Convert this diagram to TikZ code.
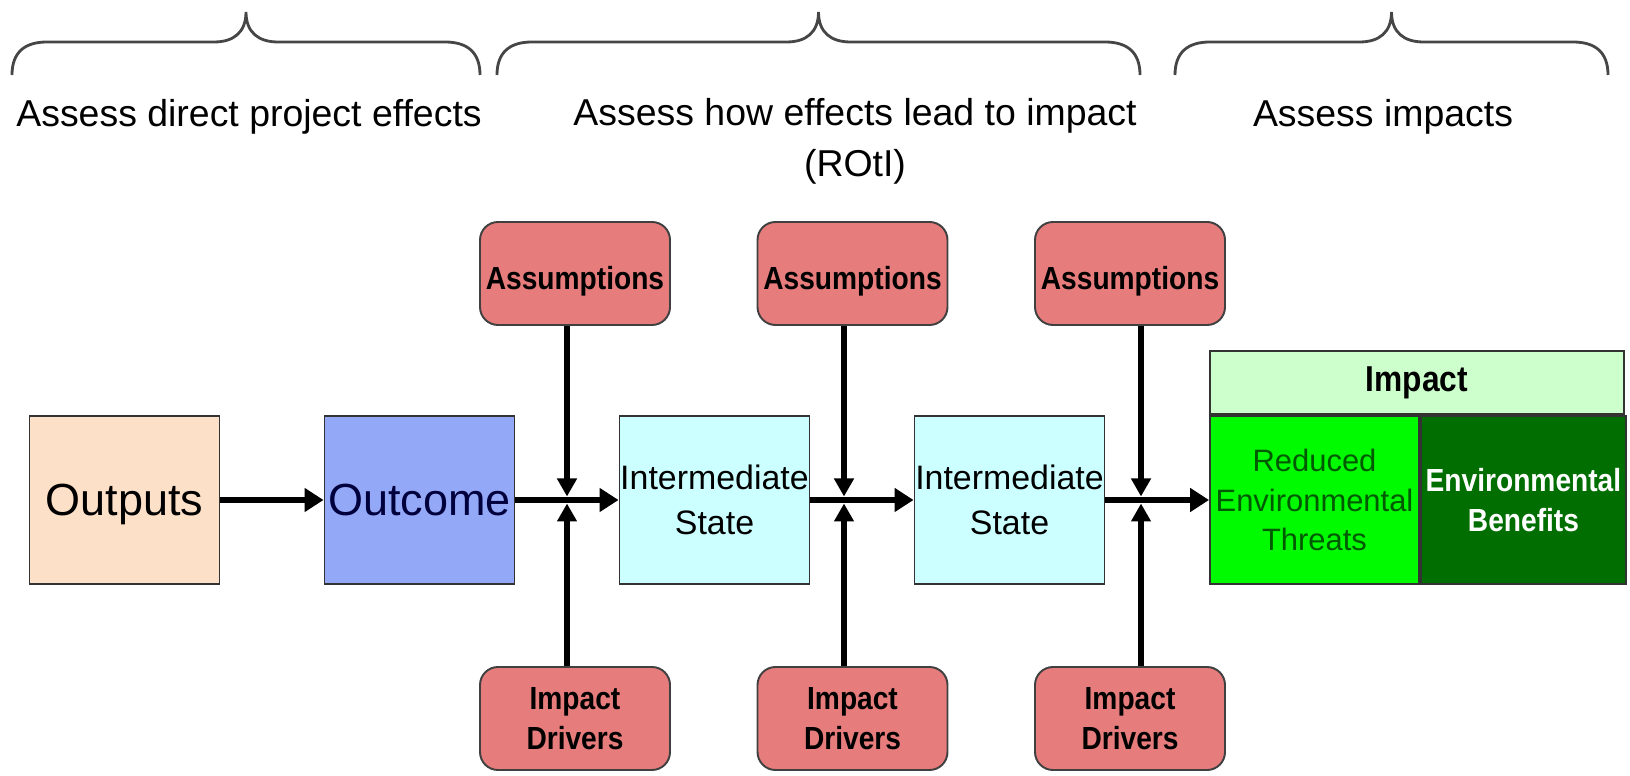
\documentclass[tikz,border=0pt]{standalone}
\usepackage{fontspec}
\setmainfont{Liberation Sans}
\newfontfamily\narrowfont[FakeStretch=0.88]{Liberation Sans}
\usetikzlibrary{positioning, arrows.meta}

\definecolor{peach}{RGB}{252,224,200}
\definecolor{periwinkle}{RGB}{148,168,248}
\definecolor{palecyan}{RGB}{204,255,255}
\definecolor{salmon}{RGB}{230,124,124}
\definecolor{palegreen}{RGB}{204,255,204}
\definecolor{brightgreen}{RGB}{0,250,0}
\definecolor{forest}{RGB}{0,110,0}
\definecolor{textgreen}{RGB}{0,90,0}
\definecolor{navy}{RGB}{0,0,60}
\definecolor{bracegray}{RGB}{70,70,70}

\begin{document}
\begin{tikzpicture}[node distance=5.9cm]
	\tikzstyle{stage} = [rectangle, minimum width=3.8cm, minimum height=3.36cm, 
	inner sep=0pt, align=center, draw=black!80, line width=1.1pt]
	\tikzstyle{factor} = [rectangle, rounded corners=0.36cm, minimum width=3.8cm, 
	minimum height=2.06cm, inner sep=0pt, align=center, draw=black!75, 
	line width=1.1pt, fill=salmon, font=\narrowfont\bfseries\fontsize{18.2}{22.8}\selectfont]
	\tikzstyle{phase} = [align=center, font=\fontsize{21.3}{29}\selectfont]
	\tikzstyle{arrow} = [line width=3.6pt, ->, >={Triangle[length=0.38cm, width=0.46cm]}]
	\tikzstyle{link} = [line width=3.3pt, ->, >={Triangle[length=0.36cm, width=0.38cm]}, 
	shorten >=0.07cm]
	\tikzstyle{bracket} = [line width=1.6pt, draw=bracegray]
	\useasboundingbox (0,0) rectangle (32.6,15.5);
	% phases
	\foreach \xa/\xm/\xb in {0.24/4.92/9.6, 9.94/16.37/22.8, 23.5/27.83/32.16}
		\draw [bracket] (\xa,14.0) .. controls (\xa,14.45) and (\xa+0.25,14.66) .. (\xa+0.7,14.66) 
		-- (\xm-0.64,14.66) .. controls (\xm-0.25,14.66) and (\xm,14.85) .. (\xm,15.26) 
		.. controls (\xm,14.85) and (\xm+0.25,14.66) .. (\xm+0.64,14.66) 
		-- (\xb-0.7,14.66) .. controls (\xb-0.25,14.66) and (\xb,14.45) .. (\xb,14.0);
	\node (directLabel) [phase] at (4.98,13.17) {Assess direct project effects};
	\node (pathLabel) [phase] at (17.1,12.68) {Assess how effects lead to impact\\(ROtI)};
	\node (impactLabel) [phase] at (27.66,13.17) {Assess impacts};
	% chain
	\node (outputs) [stage, fill=peach, text depth=0pt, font=\fontsize{25.6}{30}\selectfont] 
	at (2.49,5.5) {Outputs};
	\node (outcome) [stage, fill=periwinkle, text=navy, font=\fontsize{25.6}{30}\selectfont, 
	right of=outputs] {Outcome};
	\node (state1) [stage, fill=palecyan, font=\fontsize{19.3}{26}\selectfont, 
	right of=outcome] {Intermediate\\State};
	\node (state2) [stage, fill=palecyan, font=\fontsize{19.3}{26}\selectfont, 
	right of=state1] {Intermediate\\State};
	\node (threats) [stage, fill=brightgreen, text=textgreen, minimum width=4.18cm, 
	font=\fontsize{17.6}{22.5}\selectfont, right of=state2, xshift=0.2cm] {Reduced\\Environmental\\Threats};
	\node (benefits) [stage, fill=forest, text=white, minimum width=4.1cm, 
	font=\narrowfont\bfseries\fontsize{18.2}{22.5}\selectfont, right=0pt of threats] {Environmental\\Benefits};
	\node (impact) [stage, fill=palegreen, minimum width=8.28cm, minimum height=1.26cm, 
	anchor=south west, font=\narrowfont\bfseries\fontsize{20.5}{24}\selectfont] 
	at (threats.north west) {Impact};
	% influences
	\node (assume1) [factor, text height=18.6pt, text depth=0pt] at (11.5,10.03) {Assumptions};
	\node (assume2) [factor, text height=18.6pt, text depth=0pt, right of=assume1, 
	node distance=5.55cm] {Assumptions};
	\node (assume3) [factor, text height=18.6pt, text depth=0pt, right of=assume2, 
	node distance=5.55cm] {Assumptions};
	\node (drivers1) [factor, below of=assume1, node distance=8.9cm] {Impact\\Drivers};
	\node (drivers2) [factor, below of=assume2, node distance=8.9cm] {Impact\\Drivers};
	\node (drivers3) [factor, below of=assume3, node distance=8.9cm] {Impact\\Drivers};
	\coordinate (j1) at (11.34,5.5);
	\coordinate (j2) at (16.88,5.5);
	\coordinate (j3) at (22.82,5.5);
	\draw [arrow] (outputs) -- (outcome);
	\draw [arrow] (outcome) -- (state1);
	\draw [arrow] (state1) -- (state2);
	\draw [arrow] (state2) -- (threats);
	\draw [link] (assume1.south -| j1) -- (j1);
	\draw [link] (assume2.south -| j2) -- (j2);
	\draw [link] (assume3.south -| j3) -- (j3);
	\draw [link] (drivers1.north -| j1) -- (j1);
	\draw [link] (drivers2.north -| j2) -- (j2);
	\draw [link] (drivers3.north -| j3) -- (j3);
\end{tikzpicture}
\end{document}
